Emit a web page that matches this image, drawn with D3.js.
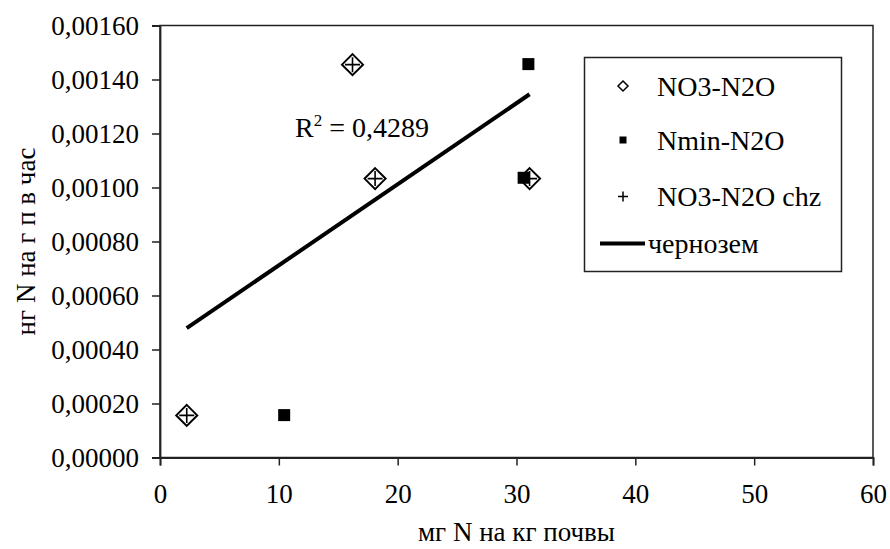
<!DOCTYPE html>
<html>
<head>
  <meta charset="utf-8">
  <title>N2O scatter</title>
  <script src="https://cdnjs.cloudflare.com/ajax/libs/d3/7.8.5/d3.min.js"></script>
  <style>
    body { margin: 0; background: #fff; }
    svg text { font-family: "Liberation Serif", "Times New Roman", serif; fill: #000; }
  </style>
</head>
<body>
  <svg id="chart"></svg>

  <script>
    // series
    const no3X = [2.25, 16.2, 18.1, 31.1];
    const no3Y = [0.000156, 0.001455, 0.001033, 0.001033];
    const nminX = [10.45, 31.0, 30.6];
    const nminY = [0.000157, 0.001457, 0.001036];
    const chzX = [2.25, 16.2, 18.1, 31.1];
    const chzY = [0.000156, 0.001455, 0.001033, 0.001033];

    const xTicks = [0, 10, 20, 30, 40, 50, 60];
    const yTicks = [0, 0.0002, 0.0004, 0.0006, 0.0008, 0.0010, 0.0012, 0.0014, 0.0016];

    const seriesNames = ["NO3-N2O", "Nmin-N2O", "NO3-N2O chz", "чернозем"];
    const xTitle = "мг N на кг почвы";
    const yTitle = "нг N на г п в час";
    const r2Label = "0,4289";

    const width = 890, height = 549;
    const margin = { top: 25.5, right: 17, bottom: 91.5, left: 160 };
    const fs = 27;

    const svg = d3.select("#chart")
      .attr("width", width)
      .attr("height", height)
      .attr("viewBox", [0, 0, width, height]);

    const x = d3.scaleLinear().domain([0, 60]).range([margin.left, width - margin.right]);
    const y = d3.scaleLinear().domain([0, 0.0016]).range([height - margin.bottom, margin.top]);

    const ru = d3.formatLocale({ decimal: ",", thousands: " ", grouping: [3], currency: ["", ""] });
    const fmtY = ru.format(".5f");

    // plot frame (top + right)
    svg.append("rect")
      .attr("x", x(0)).attr("y", y(0.0016))
      .attr("width", x(60) - x(0)).attr("height", y(0) - y(0.0016))
      .attr("fill", "none").attr("stroke", "#222").attr("stroke-width", 1.5);

    // axes
    const gx = svg.append("g")
      .attr("transform", `translate(0,${y(0)})`)
      .call(d3.axisBottom(x).tickValues(xTicks).tickSize(8).tickPadding(18).tickFormat(d3.format("d")));
    const gy = svg.append("g")
      .attr("transform", `translate(${x(0)},0)`)
      .call(d3.axisLeft(y).tickValues(yTicks).tickSize(8).tickPadding(13).tickFormat(fmtY));

    [gx, gy].forEach(g => {
      g.selectAll(".domain").attr("stroke", "#222").attr("stroke-width", 1.8);
      g.selectAll(".tick line").attr("stroke", "#222").attr("stroke-width", 1.5);
      g.selectAll(".tick text").attr("font-size", fs).attr("font-family", null);
    });

    // axis titles
    svg.append("text")
      .attr("x", (x(0) + x(60)) / 2).attr("y", 541)
      .attr("text-anchor", "middle").attr("font-size", fs)
      .text(xTitle);
    svg.append("text")
      .attr("transform", `translate(26,${(y(0) + y(0.0016)) / 2}) rotate(-90)`)
      .attr("text-anchor", "middle").attr("dominant-baseline", "central")
      .attr("font-size", fs)
      .text(yTitle);

    // marker shapes
    const diamond = (s) => `M0,${-s}L${s},0L0,${s}L${-s},0Z`;
    const plus = (s) => `M${-s},0H${s}M0,${-s}V${s}`;

    const no3 = no3X.map((v, i) => [v, no3Y[i]]);
    const nmin = nminX.map((v, i) => [v, nminY[i]]);
    const chz = chzX.map((v, i) => [v, chzY[i]]);

    svg.append("g").selectAll("path").data(no3).join("path")
      .attr("transform", d => `translate(${x(d[0])},${y(d[1])})`)
      .attr("d", diamond(10.5))
      .attr("fill", "#fff").attr("stroke", "#000").attr("stroke-width", 2);

    svg.append("g").selectAll("rect").data(nmin).join("rect")
      .attr("x", d => x(d[0]) - 6).attr("y", d => y(d[1]) - 6)
      .attr("width", 12).attr("height", 12).attr("fill", "#000");

    svg.append("g").selectAll("path").data(chz).join("path")
      .attr("transform", d => `translate(${x(d[0])},${y(d[1])})`)
      .attr("d", plus(7.5))
      .attr("fill", "none").attr("stroke", "#000").attr("stroke-width", 1.6);

    // linear trend of the chz series
    const mx = d3.mean(chzX), my = d3.mean(chzY);
    const sxy = d3.sum(chzX, (v, i) => (v - mx) * (chzY[i] - my));
    const sxx = d3.sum(chzX, v => (v - mx) ** 2);
    const slope = sxy / sxx, icpt = my - slope * mx;
    const xr = d3.extent(chzX);
    svg.append("line")
      .attr("x1", x(xr[0])).attr("y1", y(icpt + slope * xr[0]))
      .attr("x2", x(xr[1])).attr("y2", y(icpt + slope * xr[1]))
      .attr("stroke", "#000").attr("stroke-width", 4);

    const r2 = svg.append("text")
      .attr("x", 295).attr("y", 137).attr("font-size", 28);
    r2.append("tspan").text("R");
    r2.append("tspan").attr("font-size", 17).attr("dy", -11).text("2");
    r2.append("tspan").attr("dy", 11).text(" = " + r2Label);

    // legend
    const lg = svg.append("g");
    lg.append("rect")
      .attr("x", 584.5).attr("y", 57.5).attr("width", 257).attr("height", 214)
      .attr("fill", "#fff").attr("stroke", "#222").attr("stroke-width", 1.5);
    const rows = [86, 140, 196.5, 243.5];
    lg.append("path").attr("transform", `translate(623,${rows[0]})`).attr("d", diamond(5))
      .attr("fill", "#fff").attr("stroke", "#000").attr("stroke-width", 1.5);
    lg.append("rect").attr("x", 619.5).attr("y", rows[1] - 3.5).attr("width", 7).attr("height", 7).attr("fill", "#000");
    lg.append("path").attr("transform", `translate(623,${rows[2]})`).attr("d", plus(5))
      .attr("stroke", "#000").attr("stroke-width", 1.5);
    lg.append("line").attr("x1", 600).attr("x2", 645).attr("y1", rows[3]).attr("y2", rows[3])
      .attr("stroke", "#000").attr("stroke-width", 4);
    lg.selectAll("text.lab").data(seriesNames).join("text")
      .attr("class", "lab")
      .attr("x", (d, i) => i < 3 ? 657 : 648)
      .attr("y", (d, i) => rows[i])
      .attr("dominant-baseline", "central")
      .attr("font-size", 28)
      .text(d => d);
  </script>
</body>
</html>
